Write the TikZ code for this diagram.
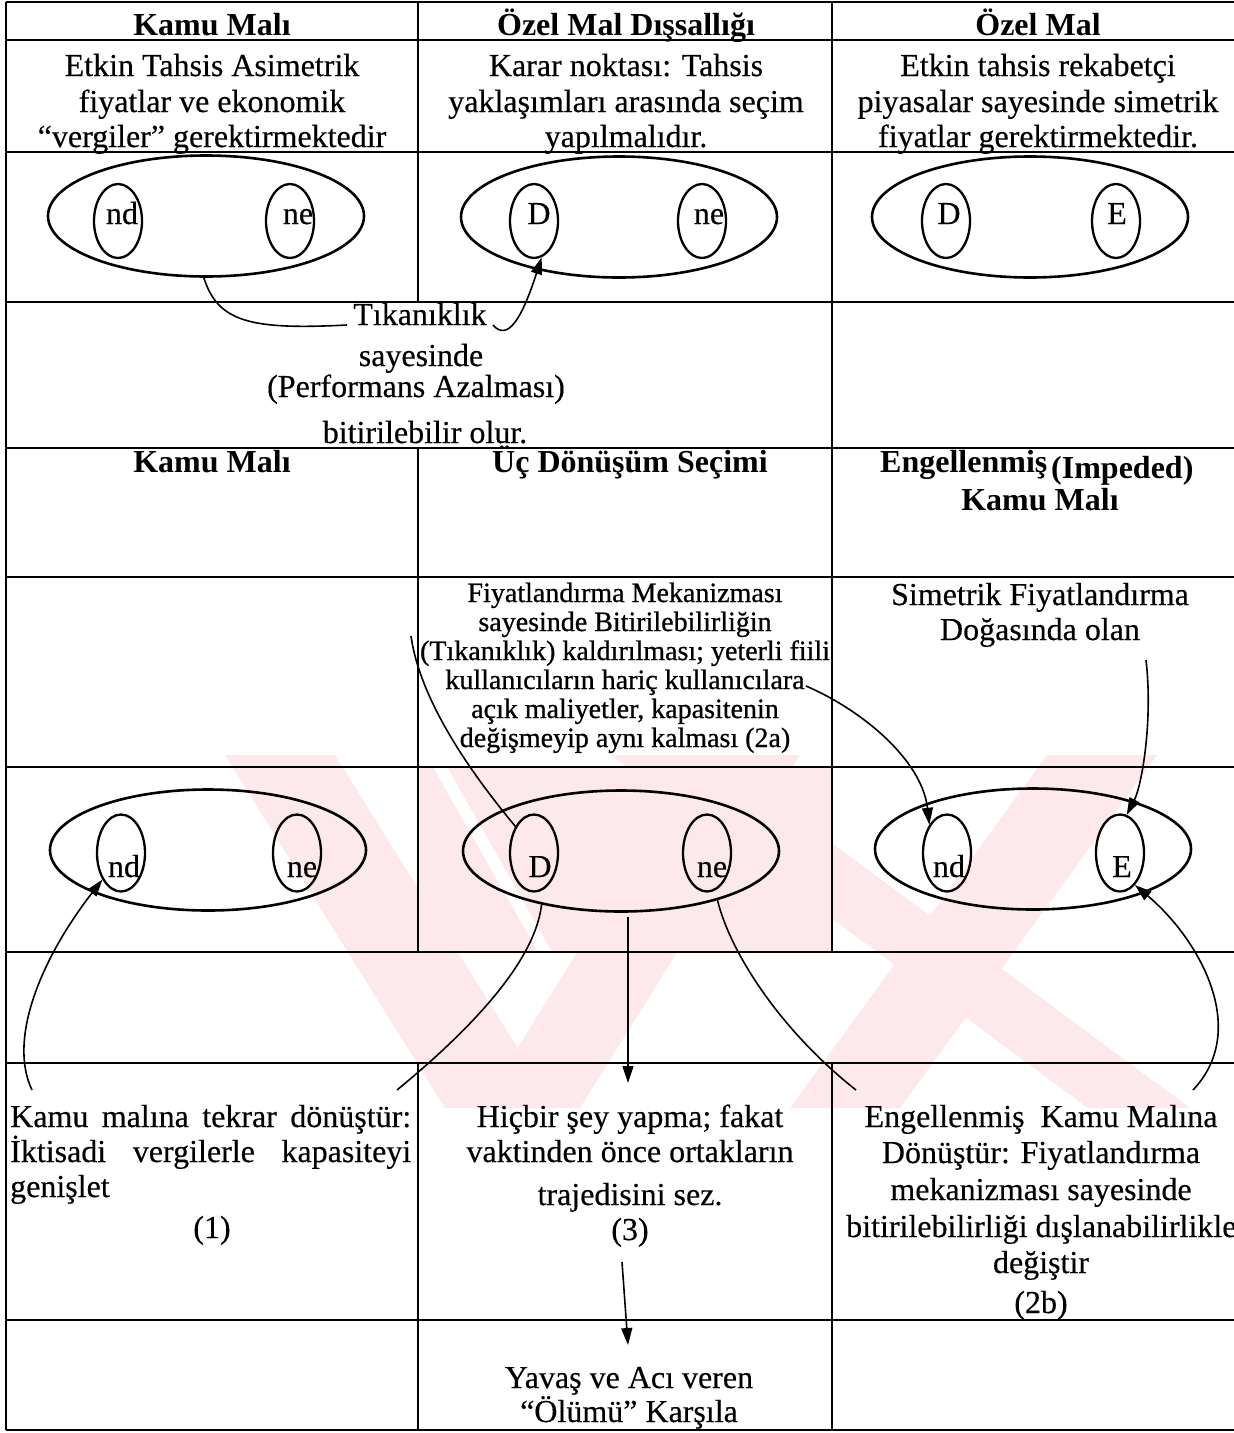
\documentclass[tikz,border=0pt]{standalone}
\usepackage{fontspec}
\setmainfont{Liberation Serif}
\newfontfamily\mainrm[FakeBold=0.35]{Liberation Serif}
\newfontfamily\semib[FakeBold=0.8]{Liberation Serif}
\usetikzlibrary{shapes.geometric,arrows.meta}
\definecolor{wm}{RGB}{253,233,236}
\begin{document}
\begin{tikzpicture}[x=1pt,y=-1pt,
  grid/.style={line width=2pt},
  bigell/.style={draw, ellipse, line width=2.6pt, minimum width=316pt, minimum height=121pt, inner sep=0pt},
  smell/.style={draw, ellipse, line width=2.3pt, minimum width=48pt, minimum height=74pt, inner sep=0pt},
  txt/.style={anchor=base, inner sep=0pt, font=\fontsize{32}{36}\mainrm},
  hdr/.style={anchor=base, inner sep=0pt, font=\fontsize{32}{36}\selectfont\bfseries},
  smalltxt/.style={anchor=base, inner sep=0pt, font=\fontsize{28}{29}\semib},
  conn/.style={line width=1.6pt},
  arr/.style={conn, -{Triangle[length=17pt,width=11pt]}},
]
\useasboundingbox (0,0) rectangle (1234,1433);
\fill[white] (0,0) rectangle (1234,1433);

% watermark (faint)
\fill[wm] (418,767) rectangle (832,952);
\fill[white] (433,767) -- (447,767) -- (552,952) -- (538,952) -- cycle;
\fill[wm] (225,755) -- (335,755) -- (555,1108) -- (445,1108) -- cycle;
\fill[wm] (700,755) -- (800,755) -- (580,1108) -- (480,1108) -- cycle;
\fill[wm] (611,755) -- (713,755) -- (1190,1108) -- (1088,1108) -- cycle;
\fill[wm] (1047,755) -- (1157,755) -- (900,1108) -- (790,1108) -- cycle;

% grid
\foreach \yy in {2,40,152,302,448,577,767,952,1063,1320,1430}
  \draw[grid] (6,\yy) -- (1234,\yy);
\draw[grid] (6,2) -- (6,1430);
\draw[grid] (418,2) -- (418,302);
\draw[grid] (418,448) -- (418,952);
\draw[grid] (418,1063) -- (418,1430);
\draw[grid] (832,2) -- (832,952);
\draw[grid] (832,1063) -- (832,1430);

% row 1 headers
\node[hdr] (h1) at (212,35) {Kamu Malı};
\node[hdr] (h2) at (626,35) {Özel Mal Dışsallığı};
\node[hdr] (h3) at (1038,35) {Özel Mal};

% row 2
\node[txt] (a1) at (212,76) {Etkin Tahsis Asimetrik};
\node[txt] (a2) at (212,112) {fiyatlar ve ekonomik};
\node[txt] (a3) at (212,147) {“vergiler” gerektirmektedir};
\node[txt] (b1) at (626,76) {Karar noktası: Tahsis};
\node[txt] (b2) at (626,112) {yaklaşımları arasında seçim};
\node[txt] (b3) at (626,147) {yapılmalıdır.};
\node[txt] (c1) at (1038,76) {Etkin tahsis rekabetçi};
\node[txt] (c2) at (1038,112) {piyasalar sayesinde simetrik};
\node[txt] (c3) at (1038,147) {fiyatlar gerektirmektedir.};

% row 3 ellipses
\node[bigell] (B1) at (206,216) {};
\node[bigell] (B2) at (619,217) {};
\node[bigell] (B3) at (1030,217) {};
\node[smell] (nd1) at (118,221) {};
\node[smell] (ne1) at (290,221) {};
\node[smell] (D2) at (534,221) {};
\node[smell] (ne2) at (702,221) {};
\node[smell] (D3) at (946,221) {};
\node[smell] (E3) at (1116,221) {};
\node[txt] (lnd1) at (122,224) {nd};
\node[txt] (lne1) at (298,224) {ne};
\node[txt] (lD2) at (539,224) {D};
\node[txt] (lne2) at (709,224) {ne};
\node[txt] (lD3) at (949,224) {D};
\node[txt] (lE3) at (1117,224) {E};

% row 4
\node[txt, inner xsep=6pt] (tik) at (420,325) {Tıkanıklık};
\node[txt] (say) at (421,366) {sayesinde};
\node[txt] (perf) at (416,397) {(Performans Azalması)};
\node[txt] (bit) at (425,443) {bitirilebilir olur.};
\draw[conn] (B1.268) .. controls (218,322) and (250,330) .. (tik.base west);
\draw[arr] (tik.base east) .. controls (508,342) and (522,318) .. (D2.282);

% row 5 headers
\node[hdr] (h4) at (212,472) {Kamu Malı};
\node[hdr] (h5) at (630,472) {Üç Dönüşüm Seçimi};
\node[hdr, anchor=base west] (h6a) at (880,472) {Engellenmiş};
\node[hdr, anchor=base west] (h6b) at (1051,478) {(Impeded)};
\node[hdr] (h6c) at (1040,510) {Kamu Malı};

% row 6
\node[smalltxt] (f1) at (625,602) {Fiyatlandırma Mekanizması};
\node[smalltxt] (f2) at (625,631) {sayesinde Bitirilebilirliğin};
\node[smalltxt] (f3) at (625,660) {(Tıkanıklık) kaldırılması; yeterli fiili};
\node[smalltxt] (f4) at (625,689) {kullanıcıların hariç kullanıcılara};
\node[smalltxt] (f5) at (625,718) {açık maliyetler, kapasitenin};
\node[smalltxt] (f6) at (625,747) {değişmeyip aynı kalması (2a)};
\node[txt] (s1) at (1040,605) {Simetrik Fiyatlandırma};
\node[txt] (s2) at (1040,640) {Doğasında olan};

% row 7 ellipses
\node[bigell] (B4) at (208,850) {};
\node[bigell] (B5) at (621,851) {};
\node[bigell] (B6) at (1033,849) {};
\node[smell, minimum height=77pt] (nd4) at (121,853) {};
\node[smell, minimum height=77pt] (ne4) at (297,853) {};
\node[smell, minimum height=77pt] (D5) at (534,853) {};
\node[smell, minimum height=77pt] (ne5) at (707,853) {};
\node[smell, minimum height=77pt] (nd6) at (947,853) {};
\node[smell, minimum height=77pt] (E6) at (1120,853) {};
\node[txt] (lnd4) at (124,877) {nd};
\node[txt] (lne4) at (302,877) {ne};
\node[txt] (lD5) at (540,877) {D};
\node[txt] (lne5) at (712,877) {ne};
\node[txt] (lnd6) at (949,877) {nd};
\node[txt] (lE6) at (1122,877) {E};

% row 9 texts
\node[txt, anchor=base west] (k1) at (10,1127) {\hbox to 401pt{Kamu\hfill malına\hfill tekrar\hfill dönüştür:}};
\node[txt, anchor=base west] (k2) at (10,1162) {\hbox to 401pt{İktisadi\hfill vergilerle\hfill kapasiteyi}};
\node[txt, anchor=base west] (k3) at (10,1197) {genişlet};
\node[txt] (k4) at (212,1238) {(1)};
\node[txt] (m1) at (630,1127) {Hiçbir şey yapma; fakat};
\node[txt] (m2) at (630,1162) {vaktinden önce ortakların};
\node[txt] (m3) at (630,1205) {trajedisini sez.};
\node[txt] (m4) at (630,1240) {(3)};
\node[txt] (r1) at (1041,1127) {Engellenmiş\ \ Kamu Malına};
\node[txt] (r2) at (1041,1163) {Dönüştür: Fiyatlandırma};
\node[txt] (r3) at (1041,1200) {mekanizması sayesinde};
\node[txt, anchor=base west] (r4) at (846,1237) {bitirilebilirliği dışlanabilirlikle};
\node[txt] (r5) at (1041,1273) {değiştir};
\node[txt] (r6) at (1041,1313) {(2b)};

% row 10
\node[txt] (y1) at (629,1388) {Yavaş ve Acı veren};
\node[txt] (y2) at (629,1422) {“Ölümü” Karşıla};

% lower connectors
\coordinate (c3s) at (411,636);
\draw[conn] (c3s) .. controls (420,700) and (470,772) .. (D5.125);
\coordinate (c4s) at (806,686);
\draw[arr] (c4s) .. controls (862,710) and (922,760) .. (nd6.122);
\coordinate (c5s) at (1146,660);
\draw[arr] (c5s) .. controls (1153,720) and (1142,785) .. (E6.80);
\coordinate (c6s) at (32,1090);
\draw[arr] (c6s) .. controls (8,1040) and (40,960) .. (nd4.235);
\coordinate (c7e) at (397,1090);
\draw[conn] (B5.214) .. controls (535,962) and (470,1030) .. (c7e);
\coordinate (c8s) at (628,917);
\coordinate (c8e) at (628,1083);
\draw[arr] (c8s) -- (c8e);
\coordinate (c9e) at (856,1090);
\draw[conn] (B5.333) .. controls (730,952) and (780,1030) .. (c9e);
\coordinate (c10s) at (1193,1090);
\draw[arr] (c10s) .. controls (1250,1030) and (1200,940) .. (E6.295);
\coordinate (c11s) at (622,1262);
\coordinate (c11e) at (628,1345);
\draw[arr] (c11s) -- (c11e);
\end{tikzpicture}
\end{document}
